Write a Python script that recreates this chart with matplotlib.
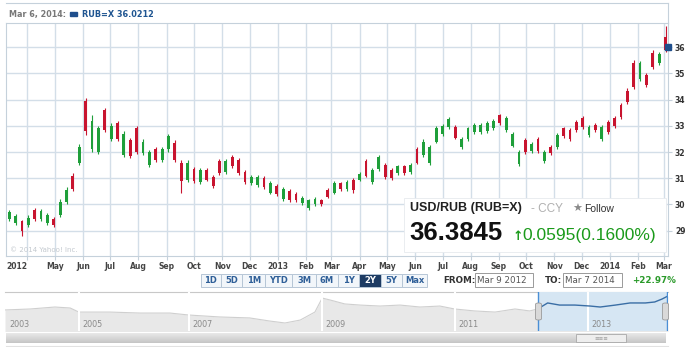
import datetime as dt
import matplotlib
matplotlib.use("Agg")
import matplotlib.pyplot as plt
import matplotlib.dates as mdates
from matplotlib.patches import Rectangle, FancyBboxPatch
import numpy as np

W, H = 688, 347

# === Weekly candles USD/RUB, Mar 2012 - Mar 2014 ===
first_week = dt.date(2012, 3, 12)
opens = [29.70, 29.55, 29.00, 29.50, 29.45, 29.75, 29.60, 29.20, 30.10, 30.55,
         30.60, 32.20, 32.80, 33.20, 32.90, 32.85, 33.00, 32.50, 32.70, 31.85,
         32.00, 32.40, 32.00, 31.70, 32.10, 32.60, 31.70, 30.90, 31.60, 30.90,
         31.30, 30.95, 30.70, 31.20, 31.65, 31.45, 31.20, 30.85, 31.05, 31.05,
         30.65, 30.80, 30.40, 30.60, 30.15, 30.15, 30.25, 30.15, 30.20, 30.00,
         30.30, 30.80, 30.60, 30.85, 30.55, 31.15, 31.10, 31.30, 31.80, 31.05,
         31.00, 31.45, 31.20, 31.50, 31.60, 32.40, 32.20, 32.90, 33.00, 33.25,
         32.55, 32.50, 32.90, 33.05, 33.05, 33.10, 33.20, 33.10, 33.30, 32.70,
         32.00, 32.00, 32.30, 32.05, 32.00, 31.95, 32.65, 32.60, 32.50, 32.85,
         32.95, 32.95, 32.85, 32.95, 32.75, 33.00, 33.35, 33.90, 34.50, 35.40,
         34.55, 35.25, 35.75, 35.90]
closes = [29.45, 29.30, 29.35, 29.20, 29.80, 29.45, 29.30, 29.45, 29.60, 30.10,
          31.10, 31.60, 33.95, 32.10, 32.00, 33.60, 32.50, 33.10, 31.90, 32.45,
          32.90, 31.95, 31.50, 32.10, 31.70, 32.10, 32.35, 31.60, 30.95, 31.35,
          30.85, 31.30, 31.05, 31.65, 31.25, 31.80, 31.70, 31.25, 30.80, 30.75,
          31.00, 30.45, 30.70, 30.20, 30.50, 30.40, 30.05, 29.85, 30.00, 30.15,
          30.55, 30.45, 30.80, 30.60, 30.95, 30.95, 31.65, 30.85, 31.35, 31.50,
          31.30, 31.20, 31.45, 31.25, 32.10, 31.90, 31.60, 32.40, 32.70, 32.95,
          32.95, 32.20, 32.50, 32.75, 32.75, 32.80, 32.90, 33.40, 32.85, 32.25,
          31.55, 32.45, 32.05, 32.50, 31.65, 32.20, 32.20, 32.90, 32.85, 33.15,
          33.30, 32.65, 33.05, 32.50, 33.15, 33.30, 33.80, 34.35, 35.40, 34.80,
          34.95, 35.80, 35.40, 36.40]
highs = [29.78, 29.62, 29.42, 29.58, 29.88, 29.82, 29.66, 29.52, 30.20, 30.65,
         31.20, 32.30, 34.08, 33.40, 33.00, 33.68, 33.10, 33.20, 32.80, 32.55,
         32.98, 32.50, 32.08, 32.18, 32.18, 32.70, 32.45, 31.70, 31.70, 31.42,
         31.38, 31.38, 31.12, 31.72, 31.72, 31.88, 31.78, 31.32, 31.12, 31.12,
         31.08, 30.88, 30.78, 30.68, 30.58, 30.48, 30.32, 30.22, 30.27, 30.22,
         30.62, 30.88, 30.87, 30.92, 31.02, 31.22, 31.72, 31.38, 31.88, 31.58,
         31.38, 31.52, 31.52, 31.57, 32.18, 32.48, 32.28, 32.98, 33.08, 33.32,
         33.02, 32.57, 32.97, 33.12, 33.12, 33.17, 33.27, 33.45, 33.38, 32.78,
         32.08, 32.52, 32.37, 32.57, 32.07, 32.27, 32.72, 32.97, 32.92, 33.22,
         33.37, 33.02, 33.12, 33.02, 33.22, 33.37, 33.88, 34.43, 35.52, 35.48,
         35.03, 35.88, 35.82, 36.80]
lows = [29.38, 29.22, 28.78, 29.12, 29.38, 29.38, 29.22, 29.13, 29.52, 30.02,
        30.52, 31.52, 32.65, 32.00, 31.92, 32.78, 32.42, 32.42, 31.82, 31.78,
        31.92, 31.88, 31.42, 31.62, 31.62, 32.02, 31.62, 30.43, 30.87, 30.83,
        30.78, 30.88, 30.62, 31.13, 31.18, 31.38, 31.13, 30.78, 30.73, 30.68,
        30.58, 30.38, 30.33, 30.13, 30.08, 30.08, 29.98, 29.78, 29.93, 29.93,
        30.23, 30.38, 30.53, 30.53, 30.45, 30.88, 31.03, 30.78, 31.28, 30.98,
        30.93, 31.13, 31.13, 31.18, 31.53, 31.83, 31.50, 32.33, 32.63, 32.88,
        32.48, 32.13, 32.43, 32.68, 32.68, 32.73, 32.83, 33.03, 32.78, 32.18,
        31.48, 31.93, 31.98, 31.98, 31.58, 31.88, 32.13, 32.53, 32.43, 32.78,
        32.88, 32.58, 32.78, 32.43, 32.68, 32.93, 33.28, 33.83, 34.42, 34.72,
        34.48, 35.18, 35.33, 35.82]
last_quote = 36.0212

tick_labels = ["2012", "May", "Jun", "Jul", "Aug", "Sep", "Oct", "Nov", "Dec",
               "2013", "Feb", "Mar", "Apr", "May", "Jun", "Jul", "Aug", "Sep",
               "Oct", "Nov", "Dec", "2014", "Feb", "Mar"]
y_ticks = [29, 30, 31, 32, 33, 34, 35, 36]

# navigator (long history, 2004 - 2014)
nav_years = [2004.23, 2004.61, 2004.98, 2005.21, 2005.34, 2005.81, 2006.26,
             2006.71, 2006.99, 2007.46, 2007.91, 2008.21, 2008.44, 2008.67,
             2008.89, 2009.00, 2009.12, 2009.34, 2009.57, 2009.87, 2010.17,
             2010.47, 2010.77, 2010.99, 2011.29, 2011.60, 2011.90, 2012.12,
             2012.24, 2012.39, 2012.57, 2012.80, 2013.03, 2013.18, 2013.41,
             2013.63, 2013.86, 2014.00, 2014.11, 2014.20]
nav_values = [27.1, 27.8, 29.2, 28.5, 25.6, 25.6, 24.9, 24.9, 23.5, 22.1,
              21.4, 19.2, 17.8, 19.9, 25.6, 35.6, 34.2, 31.4, 30.6, 29.9,
              30.6, 29.2, 29.9, 27.8, 26.4, 25.6, 27.8, 26.4, 27.8, 32.1,
              30.6, 30.6, 29.9, 29.2, 30.6, 32.1, 32.1, 32.8, 34.9, 37.1]
nav_year_labels = ["2003", "2005", "2007", "2009", "2011", "2013"]
range_buttons = ["1D", "5D", "1M", "YTD", "3M", "6M", "1Y", "2Y", "5Y", "Max"]

UP = "#c8142f"
DOWN = "#1f9f3a"
GRID = "#d3dee8"
EDGE = "#c5d1db"


def fx(x):
    return x / W


def fy(y):
    return 1 - y / H


fig = plt.figure(figsize=(W / 100, H / 100), dpi=100)
fig.patch.set_facecolor("white")

# === Main candle chart ===
ax = fig.add_axes([fx(6), fy(256), (668 - 6) / W, (256 - 22.7) / H])
week_dates = [first_week + dt.timedelta(days=7 * i) for i in range(len(opens))]
xd = mdates.date2num(week_dates)
o = np.array(opens)
c = np.array(closes)
colors = [UP if cc >= oo else DOWN for oo, cc in zip(o, c)]
ax.vlines(xd, lows, highs, colors=colors, lw=0.8, zorder=3)
ax.bar(xd, np.abs(c - o), bottom=np.minimum(o, c), width=3.1,
       color=colors, lw=0, zorder=3)
ax.plot(mdates.date2num(dt.datetime(2014, 3, 5, 17)), last_quote, "s",
        ms=3.8, color="#1f4e8c", clip_on=False, zorder=6)

ax.set_xlim(mdates.date2num(dt.datetime(2012, 3, 8, 12)),
            mdates.date2num(dt.datetime(2014, 3, 5, 17)))
ax.set_ylim(28.03, 36.94)

months = [dt.date(2012 + (3 + k) // 12, (3 + k) % 12 + 1, 1) for k in range(24)]
ax.set_xticks(mdates.date2num(months))
ax.set_xticklabels(tick_labels)
ax.get_xticklabels()[0].set_horizontalalignment("right")
ax.set_yticks(y_ticks)
ax.yaxis.tick_right()
ax.grid(True, color=GRID, lw=1, zorder=0)
ax.set_axisbelow(True)
for s in ax.spines.values():
    s.set_color(EDGE)
ax.tick_params(axis="x", length=3, color=EDGE, pad=1, labelsize=5.5,
               labelcolor="#444")
ax.tick_params(axis="y", length=3, color=EDGE, pad=2, labelsize=5.5,
               labelcolor="#333")
for lab in ax.get_xticklabels() + ax.get_yticklabels():
    lab.set_fontweight("bold")

fig.text(fx(10), fy(252.5), "\u00a9 2014 Yahoo! Inc.", fontsize=5,
         color="#c3c9cf", zorder=4)

# === Header row ===
fig.add_artist(plt.Line2D([fx(6), fx(668)], [fy(3), fy(3)], color=EDGE, lw=0.8))
fig.add_artist(plt.Line2D([fx(668), fx(668)], [fy(3), fy(22.7)], color=EDGE, lw=0.8))
fig.text(fx(9), fy(17), "Mar 6, 2014:", fontsize=5.8, color="#777",
         fontweight="bold")
fig.patches.append(Rectangle((fx(70), fy(15.5)), 7 / W, 3 / H,
                             transform=fig.transFigure, color="#1f4e8c"))
fig.text(fx(82), fy(17), "RUB=X 36.0212", fontsize=5.9, color="#1f5591",
         fontweight="bold")

# === Quote box ===
fig.patches.append(Rectangle((fx(404), fy(252)), (666 - 404) / W, (252 - 198) / H,
                             transform=fig.transFigure, facecolor="white",
                             edgecolor="#e6eaee", lw=0.6, zorder=5))
sans = ["Liberation Sans", "DejaVu Sans"]
fig.text(fx(410), fy(211.5), "USD/RUB (RUB=X)", fontsize=9, fontweight="bold",
         family=sans, color="#222", zorder=6)
fig.text(fx(531), fy(211.5), "- CCY", fontsize=8.5, family=sans, color="#b0b0b0",
         zorder=6)
fig.text(fx(572), fy(211.5), "\u2605", fontsize=8, family="DejaVu Sans",
         color="#8a8a8a", zorder=6)
fig.text(fx(584), fy(211.5), "Follow", fontsize=7.5, family=sans, color="#333",
         zorder=6)
fig.text(fx(409), fy(240.5), "36.3845", fontsize=18.5, fontweight="bold",
         family=sans, color="#111", zorder=6)
fig.text(fx(513), fy(239.5), "\u2191", fontsize=9, fontweight="bold",
         family="DejaVu Sans", color="#1a9a1a", zorder=6)
fig.text(fx(522), fy(240), "0.0595(0.1600%)", fontsize=12.5, family=sans,
         color="#1a9a1a", zorder=6)

# === Range buttons and dates ===
edges = [200.7, 220.7, 242.3, 265, 292.3, 315.7, 338.3, 359, 380.7, 401.7, 427.3]
for k, lab in enumerate(range_buttons):
    active = lab == "2Y"
    x0, x1 = edges[k], edges[k + 1]
    fig.patches.append(Rectangle((fx(x0), fy(287)), (x1 - x0) / W, 13 / H,
                                 transform=fig.transFigure,
                                 facecolor="#1d3b63" if active else "#f2f6fa",
                                 edgecolor="#b6c6d6", lw=0.7))
    fig.text(fx((x0 + x1) / 2), fy(280.5), lab, fontsize=6, fontweight="bold",
             color="white" if active else "#2f5f98", ha="center", va="center")

fig.text(fx(443), fy(280.5), "FROM:", fontsize=6.3, fontweight="bold",
         color="#333", va="center")
fig.patches.append(Rectangle((fx(475), fy(286.7)), 58 / W, 14 / H,
                             transform=fig.transFigure, facecolor="white",
                             edgecolor="#9a9a9a", lw=0.7))
fig.text(fx(477), fy(280.5), "Mar 9 2012", fontsize=6.3, color="#555",
         va="center")
fig.text(fx(545), fy(280.5), "TO:", fontsize=6.3, fontweight="bold",
         color="#333", va="center")
fig.patches.append(Rectangle((fx(563), fy(286.7)), 59 / W, 14 / H,
                             transform=fig.transFigure, facecolor="white",
                             edgecolor="#9a9a9a", lw=0.7))
fig.text(fx(565), fy(280.5), "Mar 7 2014", fontsize=6.3, color="#555",
         va="center")
fig.text(fx(632), fy(280.5), "+22.97%", fontsize=6.3, fontweight="bold",
         color="#2a9a2a", va="center")

# === Navigator ===
nav = fig.add_axes([fx(5), fy(331), (668 - 5) / W, (331 - 292) / H])
nav.fill_between(nav_years, nav_values, 0, color="#e8e8e8", lw=0, zorder=1)
nav.plot(nav_years, nav_values, color="#cfcfcf", lw=0.8, zorder=2)
nav.axvspan(2012.24, 2014.2, color="#d6e6f3", lw=0, zorder=3)
sel = [k for k, yr in enumerate(nav_years) if yr >= 2012.24]
nav.plot([nav_years[k] for k in sel], [nav_values[k] for k in sel],
         color="#3a6ea5", lw=1, zorder=4)
for yr in [2012.24, 2014.19]:
    nav.axvline(yr, color="#4a8fd6", lw=1, zorder=5)
for yr in [2005.34, 2007.0, 2009.0, 2011.0, 2013.0]:
    nav.axvline(yr, color="white", lw=1.5, zorder=3.5)
label_pos = [2004.30, 2005.39, 2007.05, 2009.05, 2011.05, 2013.05]
for yr, lab in zip(label_pos, nav_year_labels):
    nav.text(yr, 0.1, lab, transform=nav.get_xaxis_transform(), fontsize=5.8,
             color="#8a8a8a", zorder=6)
nav.set_xlim(2004.23, 2014.2)
nav.set_ylim(12.07, 39.93)
nav.set_xticks([])
nav.set_yticks([])
for side, s in nav.spines.items():
    s.set_visible(side == "top")
    s.set_color("#c8c8c8")

for hx in [535.5, 662.5]:
    fig.patches.append(FancyBboxPatch((fx(hx), fy(320)), 6 / W, 17 / H,
                                      boxstyle="round,pad=0,rounding_size=0.004",
                                      transform=fig.transFigure,
                                      facecolor="#d9d9d9", edgecolor="#9a9a9a",
                                      lw=0.6, zorder=6))

# scrollbar
sb = fig.add_axes([fx(6), fy(343), (666 - 6) / W, 10.5 / H])
grad = np.linspace(0, 1, 20).reshape(-1, 1)
sb.imshow(grad, aspect="auto", cmap=matplotlib.colors.LinearSegmentedColormap
          .from_list("sb", ["#ececec", "#c6c6c6"]), extent=[0, 1, 0, 1])
sb.add_patch(Rectangle(((576 - 6) / 660, 0.1), 50 / 660, 0.8,
                       facecolor="#eeeeee", edgecolor="#a8a8a8", lw=0.6))
sb.text((601 - 6) / 660, 0.5, "\u2261\u2261\u2261", fontsize=4, color="#999",
        ha="center", va="center")
sb.set_xlim(0, 1)
sb.set_ylim(0, 1)
sb.axis("off")
fig.add_artist(plt.Line2D([fx(6), fx(668)], [fy(346), fy(346)], color="#e2e2e2",
                          lw=0.8))

fig.savefig("out.png", dpi=100)
